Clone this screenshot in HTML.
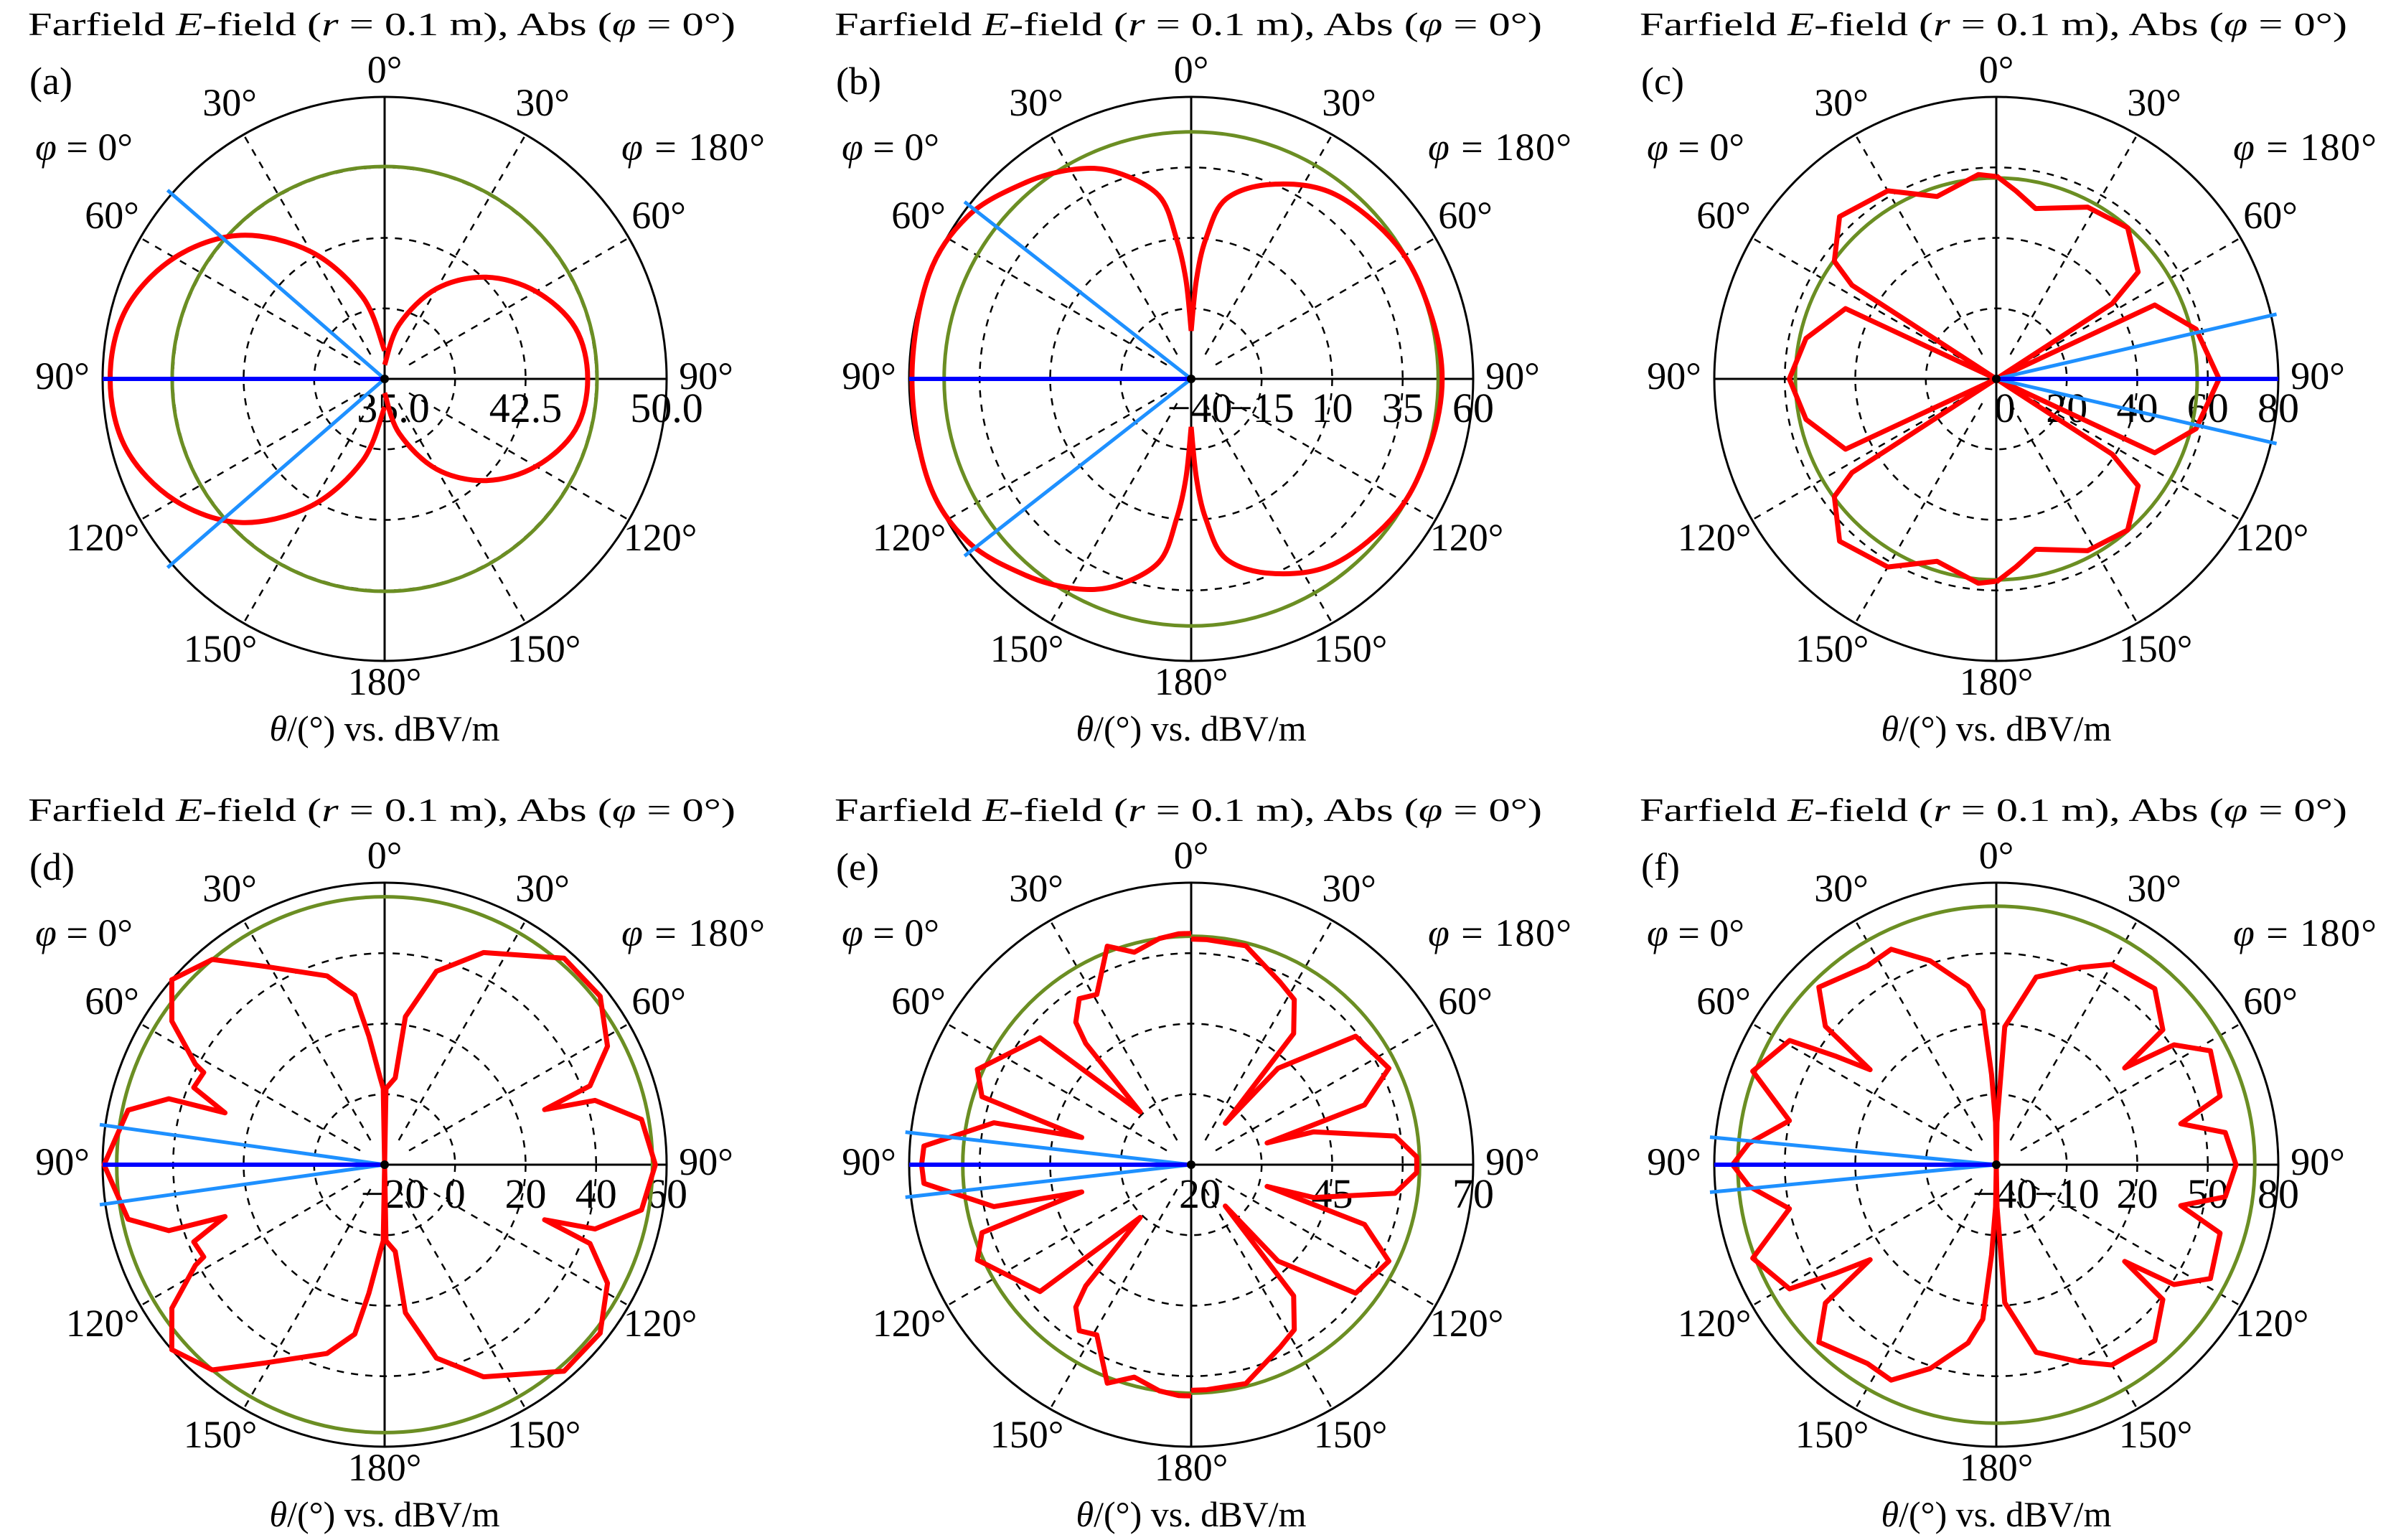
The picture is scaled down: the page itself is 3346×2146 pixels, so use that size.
<!DOCTYPE html>
<html><head><meta charset="utf-8">
<style>
html,body{margin:0;padding:0;background:#fff;}
svg{display:block;}
text{font-family:"Liberation Serif","DejaVu Serif",serif;fill:#000;}
</style></head>
<body>
<svg id="chart" width="3346" height="2146" viewBox="0 0 3346 2146" xmlns="http://www.w3.org/2000/svg"></svg>
<script>
// ---- data (dB values; upper half θ 0..90, mirrored to 180) ----
const panelLetters = ["a","b","c","d","e","f"];
const radialTicks = [
  ["35.0","","42.5","","50.0"],
  ["\u221240","\u221215","10","35","60"],
  ["0","20","40","60","80"],
  ["\u221220","0","20","40","60"],
  ["20","","45","","70"],
  ["\u221240","\u221210","20","50","80"]
];
const rMin = [35,-40,0,-20,20,-40];
const rMax = [50,60,80,60,70,80];
const greenLevel = [46.3,47.6,57,56,60.5,70];
const blueSide = ["L","L","R","L","L","L"];
const blueAngle = [49,52,77,82,83.5,84.5];
const smoothPanel = [true,true,false,false,false,false];

const thetaLa = [0,15,30,45,60,75,90];
const valLa = [36.5,39.5,42.8,45.8,47.9,49.25,49.6];
const thetaRa = [0,15,30,45,60,75,90];
const valRa = [35.75,38,40.55,42.65,44.3,45.5,45.8];

const thetaLb = [0,3,6,10,20,29,40,54,69,90];
const valLb = [-23,-5,10,26,38,45,51,58,60,59];
const thetaRb = [0,3,6,11,23,38,57,74,90];
const valRb = [-23,-5,10,25,35,43,47,48,49];

const thetaLc = [0,5,18,30,44,54,57,61,65,78,90];
const valLc = [57.4,58.2,54.4,61.6,64,56.8,48.8,0,47.2,55.2,58.7];
const thetaRc = [0,6,13,28,41,53,57,59,65,76,90];
const valRc = [57.6,53.6,49.6,55.2,56.8,50.4,39.2,0,49.6,58.4,63.2];

const thetaLd = [0,1,3,7,10,17,31,40,49,56,62,63,68,72,73,78,90];
const valLd = [-20,1.6,4.8,16.8,28.8,36,45.6,56,60,52.8,40.8,37.6,38.4,27.6,44,54.4,59.6];
const thetaRd = [0,1,7,8,15,25,41,52,62,69,71,73,80,90];
const valRd = [-20,1.6,4.8,22.4,36.8,46.4,57.6,57.6,51.6,42.4,28,42.4,54,56.8];

const thetaLe = [0,3,8,15,21,29,34,39,41,44,50,66,72,76,78,86,90];
const valLe = [61,61,60.5,59,61.5,54.5,55.5,52.5,48.5,33,55,61.5,59,40,55.75,67.5,67.8];
const thetaRe = [0,4,14,26,32,38,39.5,42,52,64,71,74,75,82,88,90];
const valRe = [60,60,60,56,54.5,49.5,29.5,43,57,59,52.5,34,42.5,56.5,60,60];

const thetaLf = [0,1,3,5,9,18,26,33,45,51,53,56,59,69,78,85,90];
const valLf = [-40,-22,-1.6,26,36.8,51.2,62,60.8,66.8,53.6,27.2,42.8,62.6,71,50,65.6,72.2];
const thetaRf = [0,1,3.5,12,23,30,42,51,53,56,62,73,77.5,82,90];
const valRf = [-40,-22,18.8,41.6,51.2,58.4,60.8,51.2,28.4,51.2,63.2,59.6,40.4,58.4,62];

const thetaL = [thetaLa,thetaLb,thetaLc,thetaLd,thetaLe,thetaLf];
const valL = [valLa,valLb,valLc,valLd,valLe,valLf];
const thetaR = [thetaRa,thetaRb,thetaRc,thetaRd,thetaRe,thetaRf];
const valR = [valRa,valRb,valRc,valRd,valRe,valRf];

// ---- drawing ----
const NS = "http://www.w3.org/2000/svg";
const svg = document.getElementById("chart");
const R = 393;
const CX = [536,1660,2782];
const CY = [528,1623];
const FS = 54;
function mk(tag, attrs, parent){
  const e = document.createElementNS(NS, tag);
  for (const k in attrs) e.setAttribute(k, attrs[k]);
  (parent||svg).appendChild(e);
  return e;
}
function txt(parent, x, y, s, anchor, size){
  const t = mk("text", {x:x, y:y, "text-anchor":anchor||"middle", "font-size":size||FS}, parent);
  t.textContent = s;
  return t;
}
function mirror(th, v){
  const T = th.slice(), V = v.slice();
  for (let i = th.length-2; i >= 0; i--) { T.push(180-th[i]); V.push(v[i]); }
  return [T, V];
}
function pathFrom(P, smooth){
  if (!smooth) return "M" + P.map(q => q[0].toFixed(1)+","+q[1].toFixed(1)).join(" L");
  let d = "M" + P[0][0].toFixed(1) + "," + P[0][1].toFixed(1);
  for (let i = 0; i < P.length-1; i++) {
    const p0 = P[Math.max(0,i-1)], p1 = P[i], p2 = P[i+1], p3 = P[Math.min(P.length-1,i+2)];
    const c1 = [p1[0]+(p2[0]-p0[0])/6, p1[1]+(p2[1]-p0[1])/6];
    const c2 = [p2[0]-(p3[0]-p1[0])/6, p2[1]-(p3[1]-p1[1])/6];
    d += " C" + c1.map(n=>n.toFixed(1)).join(",") + " " + c2.map(n=>n.toFixed(1)).join(",") + " " + p2.map(n=>n.toFixed(1)).join(",");
  }
  return d;
}

for (let p = 0; p < 6; p++) {
  const cx = CX[p%3], cy = CY[Math.floor(p/3)];
  const lo = rMin[p], hi = rMax[p];
  const rs = v => Math.max(0, Math.min(1.02, (v-lo)/(hi-lo))) * R;
  const pt = (side, th, rr) => {
    const a = th*Math.PI/180;
    return [cx + (side==="L"?-1:1)*rr*Math.sin(a), cy - rr*Math.cos(a)];
  };
  const g = mk("g", {});
  
  

  const tt = mk("text", {x:cx-497, y:cy-479, "font-size":46, textLength:986, lengthAdjust:"spacingAndGlyphs"}, g);
  
  
  tt.innerHTML = 'Farfield <tspan font-style="italic">E</tspan>-field (<tspan font-style="italic">r</tspan> = 0.1 m), Abs (<tspan font-style="italic">φ</tspan> = 0°)';
  const pl = txt(g, cx-495, cy-397, "("+panelLetters[p]+")", "start");
  
  

  const grid = mk("g", {}, g);
  
  
  [0.25,0.5,0.75].forEach(f => mk("circle", {cx:cx, cy:cy, r:R*f, fill:"none", stroke:"#000", "stroke-width":2.5, "stroke-dasharray":"10 10"}, grid));
  [30,60,120,150].forEach(th => {
    ["L","R"].forEach(s => {
      const a = pt(s, th, R*0.1), b = pt(s, th, R);
      mk("line", {x1:a[0], y1:a[1], x2:b[0], y2:b[1], stroke:"#000", "stroke-width":2.5, "stroke-dasharray":"10 10"}, grid);
    });
  });
  mk("circle", {cx:cx, cy:cy, r:R, fill:"none", stroke:"#000", "stroke-width":3}, grid);
  mk("line", {x1:cx-R, y1:cy, x2:cx+R, y2:cy, stroke:"#000", "stroke-width":3}, grid);
  mk("line", {x1:cx, y1:cy-R, x2:cx, y2:cy+R, stroke:"#000", "stroke-width":3}, grid);

  const al = mk("g", {}, g);
  
  
  txt(al, cx, cy-413, "0°");
  txt(al, cx-216, cy-367, "30°"); txt(al, cx+220, cy-367, "30°");
  txt(al, cx-380, cy-210, "60°"); txt(al, cx+382, cy-210, "60°");
  txt(al, cx-449, cy+14, "90°"); txt(al, cx+448, cy+14, "90°");
  txt(al, cx-393, cy+239, "120°"); txt(al, cx+384, cy+239, "120°");
  txt(al, cx-229, cy+394, "150°"); txt(al, cx+222, cy+394, "150°");
  txt(al, cx, cy+440, "180°");
  const p0 = mk("text", {x:cx-487, y:cy-305, "font-size":FS}, al);
  p0.innerHTML = '<tspan font-style="italic">φ</tspan> = 0°';
  const p1 = mk("text", {x:cx+330, y:cy-305, "font-size":FS, textLength:200, lengthAdjust:"spacing"}, al);
  p1.innerHTML = '<tspan font-style="italic">φ</tspan> = 180°';
  const at = mk("text", {x:cx, y:cy+504, "font-size":50, "text-anchor":"middle"}, g);
  
  
  at.innerHTML = '<tspan font-style="italic">θ</tspan>/(°) vs. dBV/m';

  const rl = mk("g", {}, g);
  
  
  radialTicks[p].forEach((s, i) => { if (s) txt(rl, cx + R*i/4 + (i===0?12:0), cy+60, s, "middle", 58); });

  const gc = mk("circle", {cx:cx, cy:cy, r:rs(greenLevel[p]), fill:"none", stroke:"#6b8e23", "stroke-width":5}, g);
  
  

  [["L", thetaL[p], valL[p]], ["R", thetaR[p], valR[p]]].forEach(([side, th, v]) => {
    const [T, V] = mirror(th, v);
    const P = T.map((t, i) => pt(side, t, rs(V[i])));
    const pl2 = mk("path", {d:pathFrom(P, smoothPanel[p]), fill:"none", stroke:"#ff0000", "stroke-width":7, "stroke-linejoin":"round"}, g);
    
    
  });

  const bs = blueSide[p];
  [blueAngle[p], 180-blueAngle[p]].forEach(a => {
    const e = pt(bs, a, R*1.02);
    const bl = mk("line", {x1:cx, y1:cy, x2:e[0], y2:e[1], stroke:"#1e90ff", "stroke-width":5}, g);
    
    
  });
  const e90 = pt(bs, 90, R);
  const ml = mk("line", {x1:cx, y1:cy, x2:e90[0], y2:e90[1], stroke:"#0000ff", "stroke-width":6}, g);
  
  
  mk("circle", {cx:cx, cy:cy, r:6, fill:"#000"}, g);
}
</script>
</body></html>
